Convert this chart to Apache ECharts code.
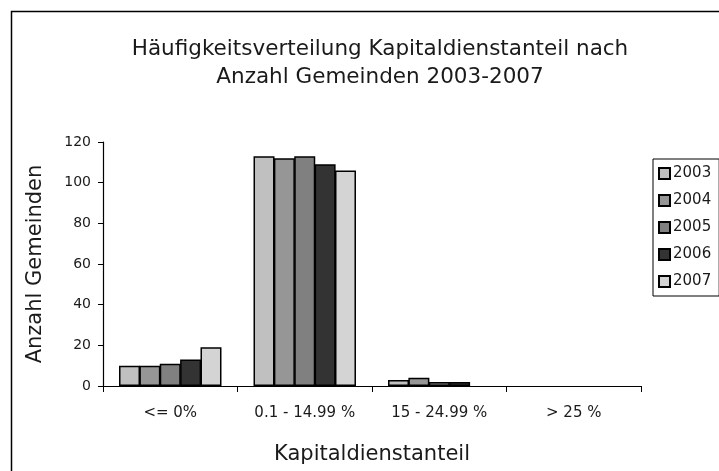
<!DOCTYPE html>
<html>
<head>
<meta charset="utf-8">
<script src="https://cdn.jsdelivr.net/npm/echarts@6/dist/echarts.min.js"></script>
<style>
  html, body { margin: 0; padding: 0; background: #fff; }
  #chart { width: 719px; height: 471px; }
</style>
</head>
<body>
<div id="chart"></div>
<script>
const categories = ['<= 0%', '0.1 - 14.99 %', '15 - 24.99 %', '> 25 %'];
const years = ['2003', '2004', '2005', '2006', '2007'];
const values2003 = [10, 113, 3, 0];
const values2004 = [10, 112, 4, 0];
const values2005 = [11, 113, 2, 0];
const values2006 = [13, 109, 2, 0];
const values2007 = [19, 106, 0, 0];
const yTicks = [0, 20, 40, 60, 80, 100, 120];

const seriesValues = [values2003, values2004, values2005, values2006, values2007];
const colors = ['#c0c0c0', '#969696', '#808080', '#333333', '#d4d4d4'];
const fontFamily = '"DejaVu Sans", sans-serif';

const chart = echarts.init(document.getElementById('chart'));

chart.setOption({
  animation: false,
  backgroundColor: '#ffffff',
  textStyle: { fontFamily },
  title: {
    text: 'Häufigkeitsverteilung Kapitaldienstanteil nach\nAnzahl Gemeinden 2003-2007',
    left: 375,
    textAlign: 'center',
    top: 30,
    textStyle: {
      fontFamily,
      fontSize: 21.5,
      fontWeight: 'normal',
      color: '#1a1a1a',
      lineHeight: 28,
    },
  },
  graphic: [
    {
      type: 'rect',
      left: 9,
      top: 9,
      shape: { width: 720, height: 470 },
      style: { fill: 'none', stroke: '#000', lineWidth: 1.5 },
      silent: true,
    },
  ],
  legend: {
    data: years,
    orient: 'vertical',
    left: 653,
    top: 159,
    itemWidth: 11,
    itemHeight: 11,
    itemGap: 12,
    padding: [7, 8, 7, 5],
    borderColor: '#000',
    borderWidth: 1,
    icon: 'rect',
    textStyle: { fontFamily, fontSize: 15, color: '#1a1a1a', padding: [0, 0, 0, -2] },
  },
  grid: {
    left: 103,
    right: 78,
    top: 142,
    bottom: 85,
  },
  xAxis: {
    type: 'category',
    data: categories,
    name: 'Kapitaldienstanteil',
    nameLocation: 'middle',
    nameGap: 58,
    nameTextStyle: { fontFamily, fontSize: 21, color: '#1a1a1a' },
    axisLine: { lineStyle: { color: '#000', width: 1.2 } },
    axisTick: { show: true, length: 6, lineStyle: { color: '#000' } },
    axisLabel: { fontFamily, fontSize: 15, color: '#1a1a1a', margin: 20 },
  },
  yAxis: {
    type: 'value',
    min: yTicks[0],
    max: yTicks[yTicks.length - 1],
    interval: yTicks[1] - yTicks[0],
    name: 'Anzahl Gemeinden',
    nameLocation: 'middle',
    nameGap: 57,
    nameRotate: 90,
    nameTextStyle: { fontFamily, fontSize: 21, color: '#1a1a1a' },
    axisLine: { show: true, lineStyle: { color: '#000', width: 1.2 } },
    axisTick: { show: true, length: 5, lineStyle: { color: '#000' } },
    axisLabel: { fontFamily, fontSize: 14, color: '#1a1a1a', margin: 12 },
    splitLine: { show: false },
  },
  series: years.map((name, i) => ({
    name,
    type: 'bar',
    data: seriesValues[i].map((v) => (v === 0 ? { value: v, itemStyle: { borderWidth: 0 } } : v)),
    barWidth: 21,
    barGap: '-3%',
    itemStyle: {
      color: colors[i],
      borderColor: '#000',
      borderWidth: 1.5,
    },
  })),
});
</script>
</body>
</html>
